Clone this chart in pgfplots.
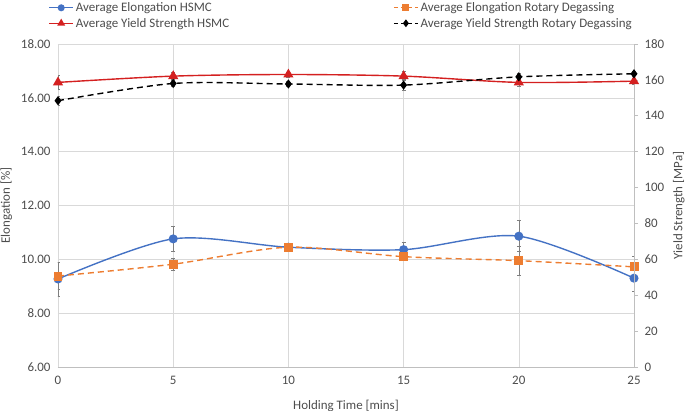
\documentclass[border=0pt]{standalone}
\usepackage{fontspec}
\setmainfont{Carlito}
\usepackage{pgfplots}
\usepackage{pgfplotstable}
\pgfplotsset{compat=1.18}
\usetikzlibrary{calc}
\definecolor{cblue}{HTML}{4472C4}
\definecolor{corange}{HTML}{ED7D31}
\definecolor{cred}{HTML}{D42020}
\definecolor{cgrid}{HTML}{D9D9D9}
\definecolor{caxis}{HTML}{BFBFBF}
\definecolor{ctext}{HTML}{4D4D4D}
\definecolor{cerr}{HTML}{7F7F7F}

\pgfplotstableread{
x y e
0 9.27 0.63
5 10.76 0.45
10 10.45 0.10
15 10.36 0.28
20 10.86 0.58
25 9.30 0.50
}\elhsmc
\pgfplotstableread{
x y e
0 9.38 0.50
5 9.82 0.22
10 10.45 0.10
15 10.10 0.10
20 9.95 0.53
25 9.72 0.40
}\elrot
\pgfplotstableread{
x y e
0 158.6 4
5 162.1 2
10 163.0 1.5
15 162.1 2.5
20 158.6 2
25 159.3 1.5
}\yshsmc
\pgfplotstableread{
x y e
0 148.4 2.5
5 158.0 1.5
10 157.7 1.5
15 157.1 3
20 161.7 2
25 163.4 1.5
}\ysrot

\pgfplotsset{
  base/.style={scale only axis, width=576bp, height=323bp,
    xmin=0, xmax=25, xtick={0,5,...,25},
    tick label style={font=\fontsize{13}{15}\selectfont, text=ctext},
    label style={font=\fontsize{13}{15}\selectfont, text=ctext},
    xticklabel style={yshift=-6bp},
    /pgf/number format/assume math mode=true},
  errs/.style={error bars/.cd, y dir=both, y explicit,
    error bar style={cerr, line width=0.6pt, solid},
    error mark options={cerr, mark size=2bp, line width=0.6pt, rotate=90, solid},
    /pgfplots/.cd},
  legend image code/.code={\draw[mark repeat=2, mark phase=2] plot coordinates {(0bp,0bp) (12bp,0bp) (24bp,0bp)};},
}

\begin{document}
\begin{tikzpicture}
\begin{axis}[base, name=ax,
  ymin=6, ymax=18, ytick={6,8,...,18},
  yticklabel style={/pgf/number format/.cd, fixed, fixed zerofill, precision=2, /tikz/.cd, xshift=-4bp},
  axis y line*=left, axis x line*=bottom,
  y axis line style={draw=none}, x axis line style={caxis, line width=0.6pt, -},
  grid=major, grid style={cgrid, line width=0.6pt},
  major tick length=0pt, tick style={draw=none},
  xlabel={Holding Time [mins]}, ylabel={Elongation [\%]},
  xlabel style={yshift=-8bp}, ylabel style={yshift=2bp},
]
\addplot[cblue, line width=1.4pt, smooth, tension=0.5, mark=*, mark size=3.8bp, mark options={solid}, errs]
  table[x=x, y=y, y error=e] {\elhsmc};
\addplot[corange, line width=1.4pt, dash pattern=on 6bp off 4bp, smooth, tension=0.5, mark=square*, mark size=3.8bp, mark options={solid}, errs]
  table[x=x, y=y, y error=e] {\elrot};
\end{axis}
\begin{axis}[base,
  ymin=0, ymax=180, ytick={0,20,...,180},
  yticklabel style={xshift=3bp},
  axis y line*=right, axis x line=none,
  y axis line style={caxis, line width=0.6pt, -},
  ytick style={caxis, line width=0.6pt}, tick align=outside, major tick length=4bp,
  ylabel={Yield Strength [MPa]}, ylabel style={yshift=-2bp},
  legend columns=2,
  legend cell align=left,
  legend style={at={(-0.022,1.035)}, anchor=south west, draw=none, fill=none,
    font=\fontsize{13}{15}\selectfont, text=ctext, row sep=1bp,
    /tikz/every even column/.append style={column sep=162bp}},
]
\addlegendimage{cblue, line width=1.4pt, mark=*, mark size=2.8bp}
\addlegendentry{Average Elongation HSMC}
\addlegendimage{corange, line width=1.4pt, dash pattern=on 4bp off 3bp, mark=square*, mark size=2.8bp, mark options={solid}}
\addlegendentry{Average Elongation Rotary Degassing}
\addlegendimage{cred, line width=1.4pt, mark=triangle*, mark size=3.2bp}
\addlegendentry{Average Yield Strength HSMC}
\addlegendimage{black, line width=1.4pt, dash pattern=on 4bp off 3bp, mark=diamond*, mark size=2.8bp, mark options={solid}}
\addlegendentry{Average Yield Strength Rotary Degassing}
\addplot[forget plot, cred, line width=1.4pt, smooth, tension=0.5, mark=triangle*, mark size=4.5bp, mark options={solid}, errs]
  table[x=x, y=y, y error=e] {\yshsmc};
\addplot[forget plot, black, line width=1.4pt, dash pattern=on 6bp off 4bp, smooth, tension=0.5, mark=diamond*, mark size=3.5bp, mark options={solid}, errs]
  table[x=x, y=y, y error=e] {\ysrot};
\end{axis}
\pgfresetboundingbox
\path[use as bounding box] ($(ax.south west)+(-58bp,-44bp)$) rectangle ($(ax.north east)+(51bp,44bp)$);
\end{tikzpicture}
\end{document}
